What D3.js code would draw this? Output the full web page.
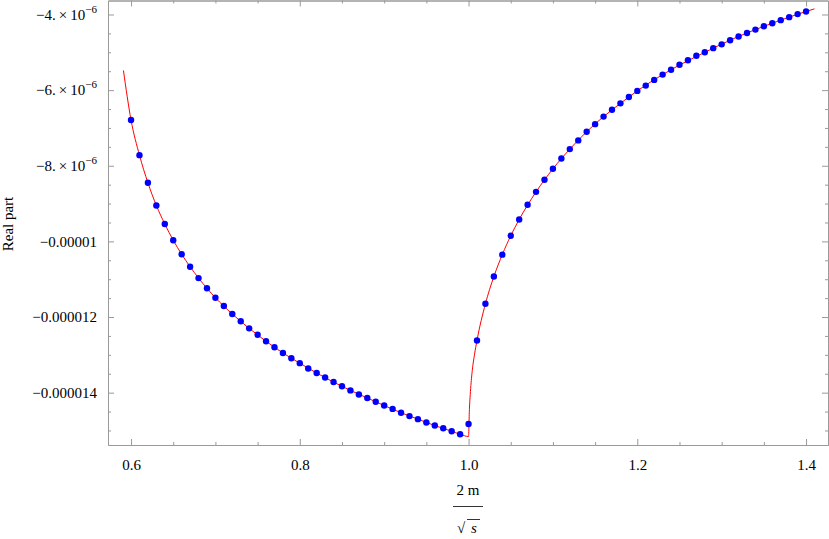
<!DOCTYPE html>
<html>
<head>
<meta charset="utf-8">
<script src="https://cdn.jsdelivr.net/npm/d3@7"></script>
<style>
  body { margin: 0; background: #fff; }
  svg { display: block; }
  svg text { font-family: "Liberation Serif", "Times New Roman", serif !important; }
</style>
</head>
<body>
<svg id="chart" width="829" height="539"></svg>
<script>
// blue sample points (x = 2m/sqrt(s), real part in units of 1e-6)
const pointX = [
  0.60, 0.61, 0.62, 0.63, 0.64, 0.65, 0.66, 0.67, 0.68, 0.69,
  0.70, 0.71, 0.72, 0.73, 0.74, 0.75, 0.76, 0.77, 0.78, 0.79,
  0.80, 0.81, 0.82, 0.83, 0.84, 0.85, 0.86, 0.87, 0.88, 0.89,
  0.90, 0.91, 0.92, 0.93, 0.94, 0.95, 0.96, 0.97, 0.98, 0.99,
  1.00, 1.01, 1.02, 1.03, 1.04, 1.05, 1.06, 1.07, 1.08, 1.09,
  1.10, 1.11, 1.12, 1.13, 1.14, 1.15, 1.16, 1.17, 1.18, 1.19,
  1.20, 1.21, 1.22, 1.23, 1.24, 1.25, 1.26, 1.27, 1.28, 1.29,
  1.30, 1.31, 1.32, 1.33, 1.34, 1.35, 1.36, 1.37, 1.38, 1.39,
  1.40
];
const pointY = [
  -6.79, -7.72, -8.45, -9.05, -9.54, -9.97, -10.34, -10.67, -10.97, -11.24,
  -11.49, -11.71, -11.92, -12.11, -12.30, -12.47, -12.64, -12.80, -12.95, -13.09,
  -13.22, -13.36, -13.48, -13.60, -13.72, -13.83, -13.94, -14.05, -14.14, -14.24,
  -14.34, -14.43, -14.53, -14.62, -14.70, -14.79, -14.87, -14.94, -15.02, -15.10,
  -14.83, -12.62, -11.65, -10.93, -10.35, -9.85, -9.42, -9.03, -8.69, -8.37,
  -8.08, -7.81, -7.56, -7.33, -7.10, -6.90, -6.70, -6.52, -6.35, -6.18,
  -6.02, -5.88, -5.73, -5.59, -5.46, -5.33, -5.21, -5.09, -5.00, -4.89,
  -4.79, -4.68, -4.58, -4.49, -4.40, -4.31, -4.23, -4.15, -4.07, -3.99,
  -3.92
];

// red curve (extends past the points and dips at 1.0)
const curveX = [
  0.591, 0.60, 0.61, 0.62, 0.63, 0.64, 0.65, 0.66, 0.67, 0.68, 0.69,
  0.70, 0.72, 0.74, 0.76, 0.78, 0.80, 0.82, 0.84, 0.86, 0.88,
  0.90, 0.92, 0.94, 0.96, 0.98, 0.99, 1.00,
  1.001, 1.002, 1.004, 1.007, 1.01, 1.02, 1.03, 1.04, 1.05, 1.06,
  1.08, 1.10, 1.12, 1.14, 1.16, 1.18, 1.20, 1.24, 1.28, 1.32, 1.36, 1.40, 1.41
];
const curveY = [
  -5.48, -6.79, -7.72, -8.45, -9.05, -9.54, -9.97, -10.34, -10.67, -10.97, -11.24,
  -11.49, -11.92, -12.30, -12.64, -12.95, -13.22, -13.48, -13.72, -13.94, -14.14,
  -14.34, -14.53, -14.70, -14.87, -15.02, -15.10, -15.16,
  -14.45, -14.05, -13.50, -13.00, -12.62, -11.65, -10.93, -10.35, -9.85, -9.42,
  -8.69, -8.08, -7.56, -7.10, -6.70, -6.35, -6.02, -5.46, -5.00, -4.58, -4.23, -3.92, -3.85
];

const xMajor = [0.6, 0.8, 1.0, 1.2, 1.4];
const xMajorLabels = ['0.6', '0.8', '1.0', '1.2', '1.4'];
const yMajor = [-4, -6, -8, -10, -12, -14];
// [mantissa, exponent] for the scientific ones, plain string otherwise
const yMajorLabels = [
  ['\u22124.\u2009\u00d7\u200910', '\u22126'],
  ['\u22126.\u2009\u00d7\u200910', '\u22126'],
  ['\u22128.\u2009\u00d7\u200910', '\u22126'],
  ['\u22120.00001', null],
  ['\u22120.000012', null],
  ['\u22120.000014', null]
];

const frame = { left: 108, right: 828, top: 0.5, bottom: 445 };
const frameColor = '#9a9a9a';

const svg = d3.select('#chart');

const x = d3.scaleLinear().domain([0.5727, 1.426]).range([frame.left, frame.right]);
const y = d3.scaleLinear().domain([-3.63, -15.384]).range([frame.top, frame.bottom]);

const xMinor = d3.range(0.6, 1.4001, 0.05).filter((v) => !xMajor.some((m) => Math.abs(m - v) < 1e-6));
const yMinor = d3.range(-15, -3.99, 0.5).filter((v) => !yMajor.some((m) => Math.abs(m - v) < 1e-6));

// frame ticks point inward, labels only on bottom and left
const addAxis = (axisFn, pos, values, size, labels) => {
  const ax = axisFn
    .tickValues(values)
    .tickSizeInner(-size)
    .tickSizeOuter(0)
    .tickPadding(size + 5);
  if (labels) ax.tickFormat((d, i) => labels[i]);
  else ax.tickFormat('');
  const g = svg.append('g')
    .attr('transform', pos)
    .call(ax)
    .attr('font-size', 15);
  g.select('.domain').attr('stroke', frameColor);
  g.selectAll('.tick line').attr('stroke', frameColor);
  return g;
};

addAxis(d3.axisBottom(x), `translate(0,${frame.bottom})`, xMinor, 3);
addAxis(d3.axisTop(x), `translate(0,${frame.top})`, xMinor, 3);
addAxis(d3.axisLeft(y), `translate(${frame.left},0)`, yMinor, 3);
addAxis(d3.axisRight(y), `translate(${frame.right},0)`, yMinor, 3);

addAxis(d3.axisTop(x), `translate(0,${frame.top})`, xMajor, 6);
addAxis(d3.axisRight(y), `translate(${frame.right},0)`, yMajor, 6);
const xAxisG = addAxis(d3.axisBottom(x), `translate(0,${frame.bottom})`, xMajor, 6, xMajorLabels);
xAxisG.selectAll('.tick text').attr('dy', '0.9em').attr('fill', '#000');

const yAxisG = addAxis(d3.axisLeft(y), `translate(${frame.left},0)`, yMajor, 6, yMajorLabels.map((l) => l[0]));
yAxisG.selectAll('.tick text').attr('fill', '#000').each(function (d, i) {
  const lab = yMajorLabels[i];
  const t = d3.select(this).text(null);
  t.append('tspan').text(lab[0]);
  if (lab[1]) {
    t.append('tspan').attr('dy', -7).attr('font-size', 11).text(lab[1]);
  }
});

// red line
const line = d3.line()
  .x((d) => x(d[0]))
  .y((d) => y(d[1]))
  .curve(d3.curveMonotoneX);

svg.append('path')
  .datum(d3.zip(curveX, curveY))
  .attr('fill', 'none')
  .attr('stroke', '#ff0000')
  .attr('stroke-width', 1)
  .attr('d', line);

// blue points
svg.append('g')
  .selectAll('circle')
  .data(d3.zip(pointX, pointY))
  .enter()
  .append('circle')
  .attr('cx', (d) => x(d[0]))
  .attr('cy', (d) => y(d[1]))
  .attr('r', 3.2)
  .attr('fill', '#0000ff');

// y axis title
svg.append('text')
  .attr('transform', 'translate(13,224) rotate(-90)')
  .attr('text-anchor', 'middle')
  .attr('font-size', 15)
  .text('Real part');

// x axis title: 2m / sqrt(s)
const xc = (frame.left + frame.right) / 2;
const xt = svg.append('g').attr('font-size', 15).attr('text-anchor', 'middle');
xt.append('text').attr('x', xc).attr('y', 495).text('2 m');
xt.append('line')
  .attr('x1', xc - 15).attr('x2', xc + 15)
  .attr('y1', 506.5).attr('y2', 506.5)
  .attr('stroke', '#000').attr('stroke-width', 0.8);
xt.append('text').attr('x', xc - 7).attr('y', 533).text('\u221a');
xt.append('text').attr('x', xc + 6).attr('y', 533).attr('font-style', 'italic').text('s');
xt.append('line')
  .attr('x1', xc - 1).attr('x2', xc + 12)
  .attr('y1', 519.5).attr('y2', 519.5)
  .attr('stroke', '#000').attr('stroke-width', 0.8);
</script>
</body>
</html>
